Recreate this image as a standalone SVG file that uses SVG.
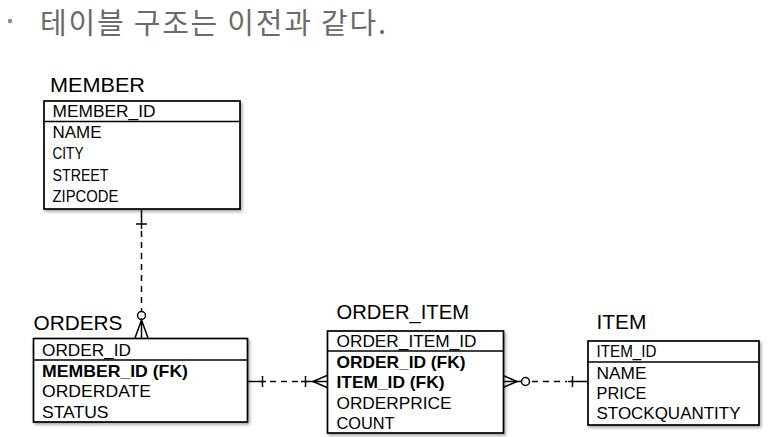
<svg xmlns="http://www.w3.org/2000/svg" width="772" height="437" viewBox="0 0 772 437">
<defs>
<filter id="sh" x="-10%" y="-10%" width="130%" height="130%"><feDropShadow dx="1.5" dy="2" stdDeviation="1.5" flood-color="#000" flood-opacity="0.35"/></filter>
</defs>
<style>
.box{fill:#fff;stroke:#000;stroke-width:1.7}
.div{stroke:#000;stroke-width:1.4}
.t{font-family:"Liberation Sans",Arial,sans-serif;font-size:21px;fill:#000}
.r{font-family:"Liberation Sans",Arial,sans-serif;font-size:16.5px;fill:#000}
.b{font-weight:bold}
.ln{stroke:#000;stroke-width:1.5;fill:none}
.dash{stroke-dasharray:6 5}
.cir{fill:#fff;stroke:#000;stroke-width:1.5}
.head{font-family:"Noto Sans CJK KR",sans-serif;font-size:29px;fill:#6b6b6b}
</style>
<g id="heading">
<circle cx="10" cy="21" r="2.2" fill="#8a8a8a"/>
<text class="head" x="40" y="34" textLength="346" lengthAdjust="spacing">테이블 구조는 이전과 같다.</text>
</g>
<g id="connectors">
<line class="ln" x1="141.5" y1="209" x2="141.5" y2="229"/>
<line class="ln" x1="136" y1="224" x2="147" y2="224"/>
<line class="ln dash" x1="141.5" y1="231" x2="141.5" y2="311"/>
<circle class="cir" cx="141.5" cy="315.5" r="4"/>
<path class="ln" d="M135,338 L141.5,320 L148,338 M141.5,319.5 V338"/>
<line class="ln" x1="248" y1="381.5" x2="266" y2="381.5"/>
<line class="ln" x1="262.5" y1="376" x2="262.5" y2="387"/>
<line class="ln dash" x1="270" y1="381.5" x2="300" y2="381.5"/>
<line class="ln" x1="301" y1="381.5" x2="327" y2="381.5"/>
<line class="ln" x1="305.5" y1="376" x2="305.5" y2="387"/>
<path class="ln" d="M327,375.5 L313,381.5 L327,387.5"/>
<line class="ln" x1="503" y1="381.5" x2="521.5" y2="381.5"/>
<path class="ln" d="M503,375.5 L517,381.5 L503,387.5"/>
<circle class="cir" cx="525.5" cy="381.5" r="4"/>
<line class="ln dash" x1="532" y1="381.5" x2="567" y2="381.5"/>
<line class="ln" x1="568" y1="381.5" x2="588" y2="381.5"/>
<line class="ln" x1="572.5" y1="376" x2="572.5" y2="387"/>
</g>
<g id="member">
<text class="t" x="50" y="91.5" textLength="95" lengthAdjust="spacingAndGlyphs">MEMBER</text>
<rect class="box" x="44" y="101" width="196" height="108" filter="url(#sh)"/>
<line class="div" x1="44" y1="121.5" x2="240" y2="121.5"/>
<text class="r" x="52.5" y="116.5" textLength="103" lengthAdjust="spacingAndGlyphs">MEMBER_ID</text>
<text class="r" x="52.5" y="138" textLength="49" lengthAdjust="spacingAndGlyphs">NAME</text>
<text class="r" x="52.5" y="158.5" textLength="31" lengthAdjust="spacingAndGlyphs">CITY</text>
<text class="r" x="52.5" y="180.5" textLength="56" lengthAdjust="spacingAndGlyphs">STREET</text>
<text class="r" x="52.5" y="202" textLength="66" lengthAdjust="spacingAndGlyphs">ZIPCODE</text>
</g>
<g id="orders">
<text class="t" x="33.5" y="330" textLength="89" lengthAdjust="spacingAndGlyphs">ORDERS</text>
<rect class="box" x="33.5" y="338.5" width="214" height="83.5" filter="url(#sh)"/>
<line class="div" x1="33.5" y1="360" x2="247.5" y2="360"/>
<text class="r" x="42" y="355.5" textLength="89" lengthAdjust="spacingAndGlyphs">ORDER_ID</text>
<text class="r b" x="42" y="376.5" textLength="146" lengthAdjust="spacingAndGlyphs">MEMBER_ID (FK)</text>
<text class="r" x="42" y="397" textLength="109" lengthAdjust="spacingAndGlyphs">ORDERDATE</text>
<text class="r" x="42" y="417.5" textLength="66.5" lengthAdjust="spacingAndGlyphs">STATUS</text>
</g>
<g id="order_item">
<text class="t" x="336.5" y="318.5" textLength="132.5" lengthAdjust="spacingAndGlyphs">ORDER_ITEM</text>
<rect class="box" x="327.5" y="331" width="176" height="102" filter="url(#sh)"/>
<line class="div" x1="327.5" y1="351" x2="503.5" y2="351"/>
<text class="r" x="336.5" y="346.5" textLength="140" lengthAdjust="spacingAndGlyphs">ORDER_ITEM_ID</text>
<text class="r b" x="336.5" y="367.5" textLength="129" lengthAdjust="spacingAndGlyphs">ORDER_ID (FK)</text>
<text class="r b" x="336.5" y="387.5" textLength="108" lengthAdjust="spacingAndGlyphs">ITEM_ID (FK)</text>
<text class="r" x="336.5" y="408.5" textLength="115" lengthAdjust="spacingAndGlyphs">ORDERPRICE</text>
<text class="r" x="336.5" y="429" textLength="58" lengthAdjust="spacingAndGlyphs">COUNT</text>
</g>
<g id="item">
<text class="t" x="596.5" y="328.5" textLength="50" lengthAdjust="spacingAndGlyphs">ITEM</text>
<rect class="box" x="588" y="341" width="171" height="84" filter="url(#sh)"/>
<line class="div" x1="588" y1="362" x2="759" y2="362"/>
<text class="r" x="596.5" y="356.5" textLength="60" lengthAdjust="spacingAndGlyphs">ITEM_ID</text>
<text class="r" x="596.5" y="378.5" textLength="50" lengthAdjust="spacingAndGlyphs">NAME</text>
<text class="r" x="596.5" y="399" textLength="50" lengthAdjust="spacingAndGlyphs">PRICE</text>
<text class="r" x="596.5" y="418.5" textLength="144" lengthAdjust="spacingAndGlyphs">STOCKQUANTITY</text>
</g>
</svg>
